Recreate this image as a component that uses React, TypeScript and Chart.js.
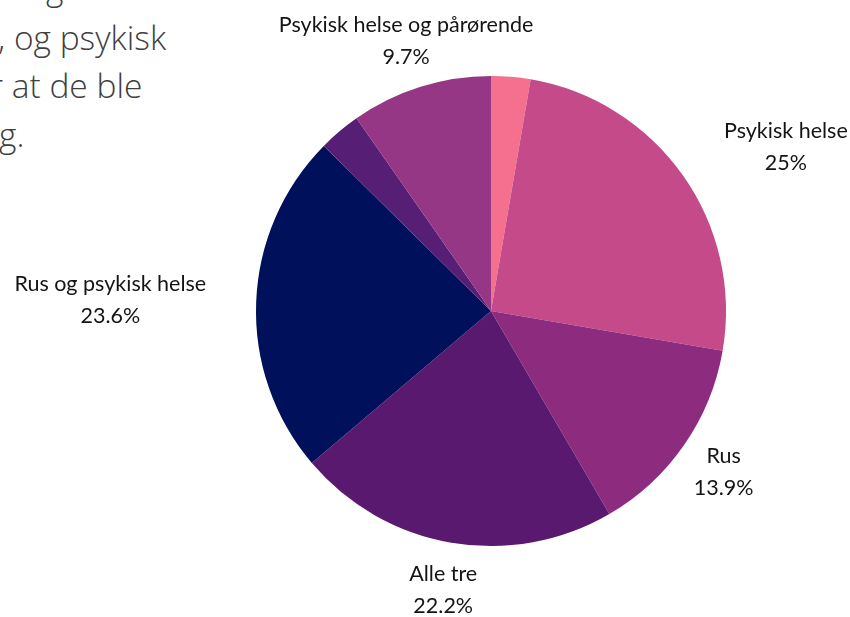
import React, { useEffect, useRef } from "react";
import { Chart, registerables } from "chart.js";

Chart.register(...registerables);

const categories = [
  "Pårørende",
  "Psykisk helse",
  "Rus",
  "Alle tre",
  "Rus og psykisk helse",
  "Rus og pårørende",
  "Psykisk helse og pårørende",
];
const values = [2.7, 25, 13.9, 22.2, 23.6, 2.9, 9.7];
const colors = ["#F56F8F", "#C54A89", "#8D2C7F", "#58196F", "#00105B", "#561E74", "#953784"];
const showLabel = [false, true, true, true, true, false, true];

const bgLines = [
  { text: "g", left: 46, top: -4 },
  { text: ", og psykisk", left: -2, top: 46 },
  { text: "r at de ble", left: -10, top: 94 },
  { text: "g.", left: -1, top: 143 },
];

const labelPlugin = {
  id: "outerLabels",
  afterDatasetsDraw(chart: any) {
    const ctx = chart.ctx;
    const meta = chart.getDatasetMeta(0);
    ctx.save();
    ctx.font = '400 21.5px "Lato", sans-serif';
    ctx.fillStyle = "#141414";
    ctx.textBaseline = "middle";
    ctx.textAlign = "center";
    meta.data.forEach((arc: any, i: number) => {
      if (!showLabel[i]) return;
      const { x, y, startAngle, endAngle, outerRadius } = arc.getProps(
        ["x", "y", "startAngle", "endAngle", "outerRadius"],
        true
      );
      const mid = (startAngle + endAngle) / 2;
      const r = outerRadius + 48;
      const ax = x + Math.cos(mid) * r;
      const ay = y + Math.sin(mid) * r;
      let deg = ((mid + Math.PI / 2) * 180) / Math.PI;
      deg = ((deg % 360) + 360) % 360;
      const l1 = categories[i];
      const l2 = values[i] + "%";
      const w = Math.max(ctx.measureText(l1).width, ctx.measureText(l2).width);
      let cx = ax;
      if (deg > 20 && deg < 110) cx = ax + w / 2 + 2;
      else if (deg > 250 && deg < 335) cx = ax - w / 2 - 2;
      ctx.fillText(l1, cx, ay - 16);
      ctx.fillText(l2, cx, ay + 16);
    });
    ctx.restore();
  },
};

export default function App() {
  const ref = useRef<HTMLCanvasElement>(null);
  useEffect(() => {
    document.body.style.margin = "0";
    const chart = new Chart(ref.current!, {
      type: "pie",
      data: {
        labels: categories,
        datasets: [
          {
            data: values,
            backgroundColor: colors,
            borderWidth: 0,
          },
        ],
      },
      options: {
        animation: false,
        responsive: false,
        layout: { padding: { left: 256, right: 124, top: 76, bottom: 71 } },
        plugins: {
          legend: { display: false },
          tooltip: { enabled: false },
        },
      },
      plugins: [labelPlugin],
    });
    return () => chart.destroy();
  }, []);
  return (
    <div style={{ position: "relative", width: 850, height: 617, overflow: "hidden", background: "#fff" }}>
      {bgLines.map((l, i) => (
        <div
          key={i}
          style={{
            position: "absolute",
            left: l.left,
            top: l.top - 30,
            height: 42,
            lineHeight: "42px",
            whiteSpace: "nowrap",
            fontFamily: '"Open Sans", sans-serif',
            fontWeight: 300,
            fontSize: 33.5,
            color: "#3f3f3f",
          }}
        >
          {l.text}
        </div>
      ))}
      <canvas ref={ref} width={850} height={617} style={{ position: "absolute", left: 0, top: 0 }} />
    </div>
  );
}
